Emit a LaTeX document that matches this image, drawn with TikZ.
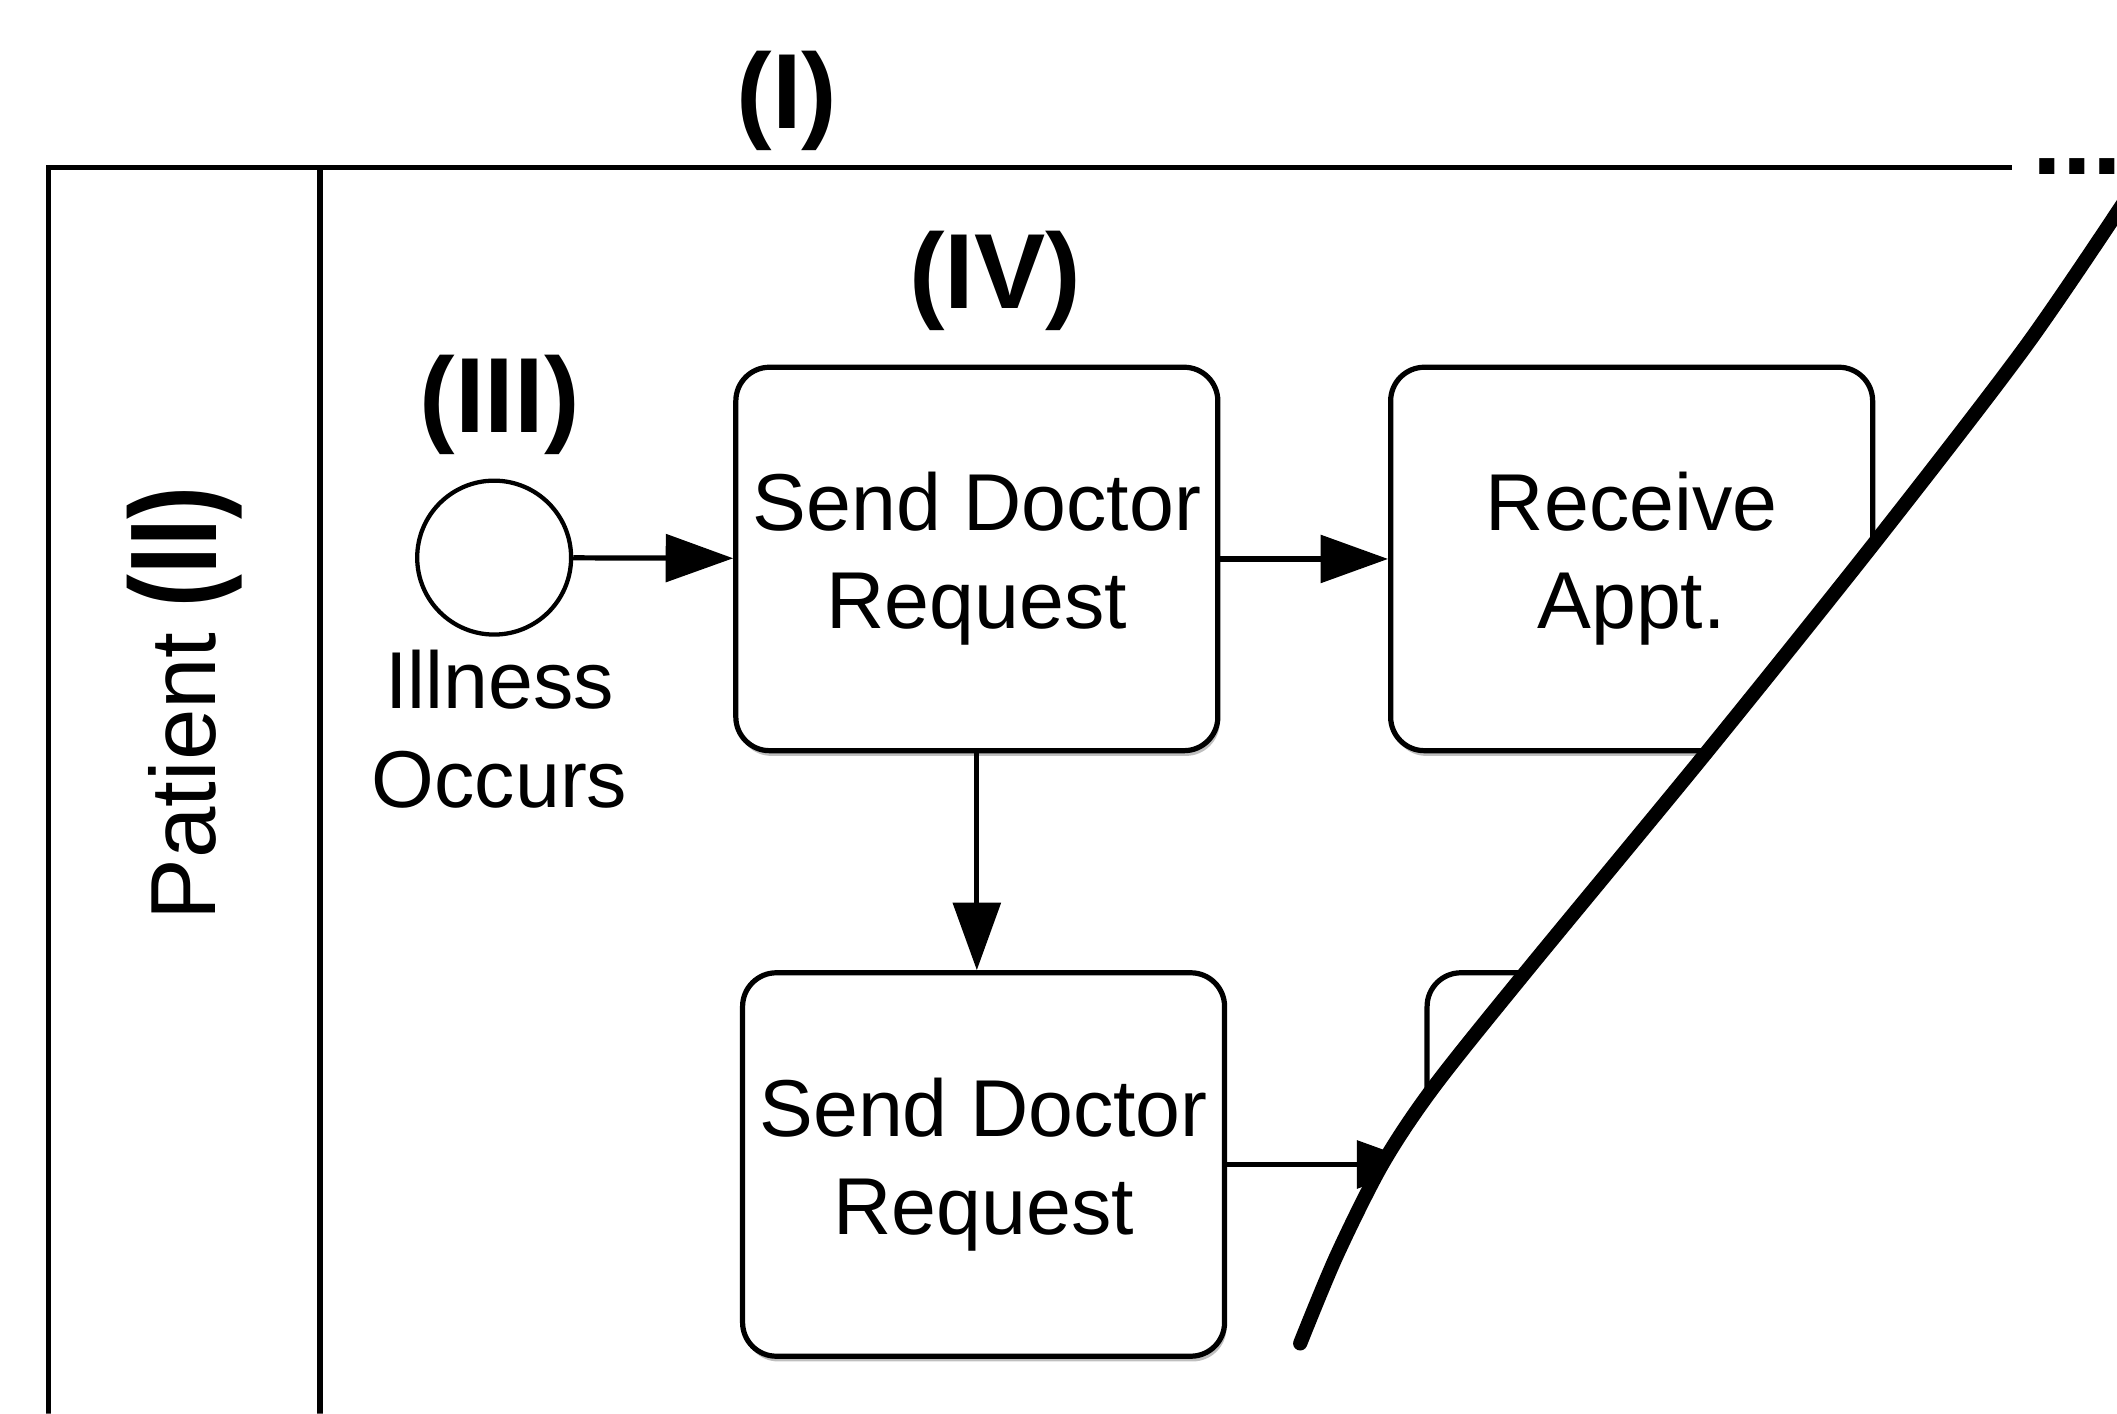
\documentclass[tikz,border=0pt]{standalone}
\usepackage{fontspec}
\setmainfont{Liberation Sans}
\usetikzlibrary{positioning, arrows.meta, shadows}

\newcommand{\tasksize}{\fontsize{17}{20.7}\selectfont}
\newcommand{\numsize}{\fontsize{22.5}{27}\selectfont\bfseries}

\begin{document}
\begin{tikzpicture}[
    task/.style={rectangle, rounded corners=0.25cm, draw=black, line width=1.1pt, fill=white,
                 minimum width=3.57cm, minimum height=2.84cm, align=center, font=\tasksize,
                 drop shadow={shadow xshift=0.4pt, shadow yshift=-1.1pt, fill=black!50, opacity=0.5}},
    event/.style={circle, draw=black, line width=0.9pt, minimum size=1.14cm, inner sep=0pt},
    flow/.style={-{Triangle[length=5mm, width=3.5mm]}, line width=1.1pt},
    pool/.style={line width=1.1pt},
    numeral/.style={font=\numsize, inner sep=0pt},
    cut/.style={line width=3pt, line cap=round}
]
    \useasboundingbox (0, 0) rectangle (15.68, 10.47);

    \begin{scope}
    % everything right of the cut line is blanked out
    \clip (0, 0) -- (0, 10.47) -- (15.68, 10.47) -- (15.75, 9.00)
        -- plot[smooth] coordinates {(15.75, 9.00) (15.00, 7.90) (13.90, 6.47) (12.65, 4.91) (11.30, 3.27) (10.62, 2.42) (10.24, 1.85) (9.90, 1.17) (9.63, 0.52)}
        -- (9.63, 0) -- cycle;

    % Pool and lane
    \draw[pool] (0.36, 0) -- (0.36, 9.23) -- (14.90, 9.23);
    \draw[pool] (2.37, 9.23) -- (2.37, 0);
    \node[numeral, anchor=base west] (more) at (15.05, 9.175) {...};

    % Lane label
    \node[font=\fontsize{19.5}{23}\selectfont, rotate=90] (lane) at (1.35, 4.72) {Patient};

    % Start event
    \node[event] (start) at (3.66, 6.34) {};
    \node[align=center, font=\tasksize] (startlbl) at (3.70, 5.07) {Illness\\Occurs};

    % Tasks
    \node[task] (send) at (7.235, 6.33) {Send Doctor\\Request};
    \node[task] (receive) at (12.085, 6.33) {Receive\\Appt.};
    \node[task] (sendb) at (7.285, 1.845) {Send Doctor\\Request};
    \node[task] (next) at (12.355, 1.845) {};

    % Sequence flows
    \draw[flow] (start) -- (send);
    \draw[flow] (send) -- (receive);
    \draw[flow] (send.south) -- (send.south |- sendb.north);
    \draw[flow] (sendb) -- (next);

    % Element markers
    \node[numeral] (m1) at (5.83, 9.72) {(I)};
    \node[numeral, rotate=90] (m2) at (1.37, 6.42) {\scalebox{0.8}[1]{\fontsize{26}{30}\selectfont(II)}};
    \node[numeral] (m3) at (3.70, 7.47) {(III)};
    \node[numeral] (m4) at (7.37, 8.39) {(IV)};
    \end{scope}

    % Cut line
    \draw[cut] plot[smooth] coordinates {(9.63, 0.52) (9.90, 1.17) (10.24, 1.85) (10.62, 2.42) (11.30, 3.27) (12.65, 4.91) (13.90, 6.47) (15.00, 7.90) (15.75, 9.00)};

\end{tikzpicture}
\end{document}
